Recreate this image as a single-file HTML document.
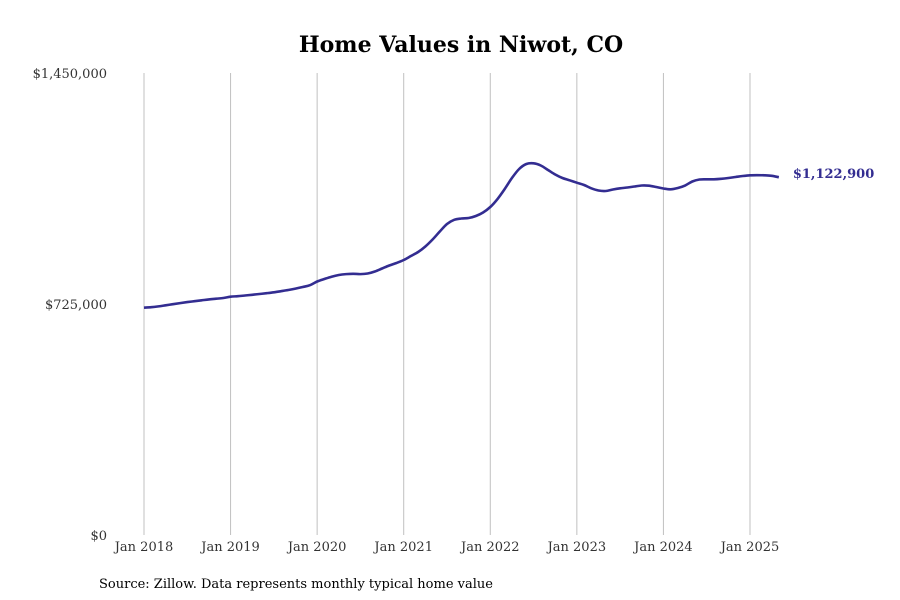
<!DOCTYPE html>
<html><head><meta charset="utf-8"><style>
body{margin:0;background:#fff}
svg{display:block;font-family:"DejaVu Serif","Liberation Serif",serif}
</style></head><body>
<svg id="chart" width="900" height="600">
<text x="461" y="52" text-anchor="middle" font-size="22" font-weight="bold" fill="#000">Home Values in Niwot, CO</text>
<g id="grid"></g><g id="yaxis"></g><g id="xaxis"></g><g id="series"></g>
<text x="99" y="588" font-size="13" fill="#000">Source: Zillow. Data represents monthly typical home value</text>
</svg>
<script>
const startYear = 2018;
const xTickLabels = ["Jan 2018","Jan 2019","Jan 2020","Jan 2021","Jan 2022","Jan 2023","Jan 2024","Jan 2025"];
const yTickValues = [0, 725000, 1450000];
const yTickLabels = ["$0","$725,000","$1,450,000"];
const homeValues = [
713400,714900,717500,720900,724400,727800,731000,733800,736600,739400,741600,743800,
747900,749500,751700,753900,756400,758900,761700,765200,768900,773300,778300,784000,
795600,803500,810700,816000,818800,819800,818800,820700,827000,836400,845800,853700,
863100,875600,888200,905500,927400,952500,976100,989300,993300,994900,1001200,1012200,
1029400,1054500,1085900,1120400,1148700,1164400,1166600,1159700,1145600,1131400,1120400,1113200,
1105700,1098500,1088100,1081200,1079700,1084400,1088100,1090600,1093800,1096900,1096300,1092200,
1087500,1085000,1089100,1096900,1109500,1115700,1116400,1116400,1117900,1120400,1123600,1126700,
1128900,1129300,1128900,1127300,1122900];
const lastLabel = "$1,122,900";

const NS="http://www.w3.org/2000/svg";
const x0=144, perYear=86.57, yBase=535, yTop=73, yMax=1450000;
const xScale = i => x0 + i*perYear/12;
const yScale = v => yBase - v/yMax*(yBase-yTop);
function mk(tag, attrs, parent){const e=document.createElementNS(NS,tag);for(const k in attrs)e.setAttribute(k,attrs[k]);parent.appendChild(e);return e;}
const grid=document.getElementById('grid'), xa=document.getElementById('xaxis'), ya=document.getElementById('yaxis'), ser=document.getElementById('series');
xTickLabels.forEach((lab,k)=>{
  const x=xScale(k*12);
  const l=mk('line',{x1:x,x2:x,y1:yTop,y2:yBase,stroke:'#c0c0c0','stroke-width':1},grid);
  
  
  const t=mk('text',{x:x,y:yBase+16,'text-anchor':'middle','font-size':13,fill:'#333'},xa);
  t.textContent=lab;
  
  
});
yTickValues.forEach((v,k)=>{
  const t=mk('text',{x:107,y:yScale(v)+5,'text-anchor':'end','font-size':13,fill:'#333'},ya);
  t.textContent=yTickLabels[k];
  
  
});
const pts=homeValues.map((v,i)=>[xScale(i),yScale(v)]);
let d='M'+pts[0][0].toFixed(2)+','+pts[0][1].toFixed(2);
for(let i=0;i<pts.length-1;i++){
  const p0=pts[Math.max(0,i-1)],p1=pts[i],p2=pts[i+1],p3=pts[Math.min(pts.length-1,i+2)];
  const c1=[p1[0]+(p2[0]-p0[0])/6,p1[1]+(p2[1]-p0[1])/6];
  const c2=[p2[0]-(p3[0]-p1[0])/6,p2[1]-(p3[1]-p1[1])/6];
  d+=' C'+c1.join(',')+' '+c2.join(',')+' '+p2.join(',');
}
const path=mk('path',{d:d,fill:'none',stroke:'#332d91','stroke-width':2.6,'stroke-linejoin':'round'},ser);


const last=pts[pts.length-1];
const lt=mk('text',{x:last[0]+14,y:last[1]+1,'font-size':13,'font-weight':'bold',fill:'#332d91'},ser);
lt.textContent=lastLabel;


</script>
</body></html>
